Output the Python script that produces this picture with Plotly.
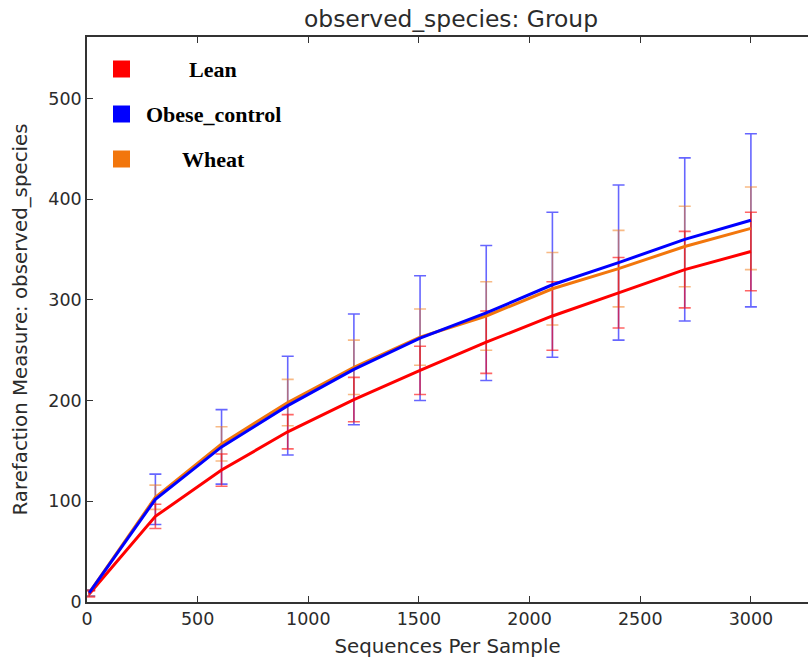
import plotly.graph_objects as go

# ---- data ----
seqs = [10, 309, 608, 907, 1206, 1505, 1804, 2103, 2402, 2701, 3000]

groups = ["Lean", "Obese_control", "Wheat"]

lean = [8, 85, 131, 169, 201, 230, 258, 284, 307, 330, 348]
lean_err = [3, 12, 16, 17, 22, 24, 31, 34, 35, 38, 39]

obese = [9, 102, 154, 195, 231, 262, 287, 315, 337, 360, 379]
obese_err = [3, 25, 37, 49, 55, 62, 67, 72, 77, 81, 86]

wheat = [9, 104, 157, 198, 233, 263, 284, 311, 331, 353, 371]
wheat_err = [3, 12, 17, 23, 27, 28, 34, 36, 38, 40, 41]

x_ticks = [0, 500, 1000, 1500, 2000, 2500, 3000]
y_ticks = [0, 100, 200, 300, 400, 500]

colors = {"Lean": "#ff0000", "Obese_control": "#0000ff", "Wheat": "#f2760c"}
err_colors = {"Lean": "rgba(255,0,0,0.6)",
              "Obese_control": "rgba(0,0,255,0.6)",
              "Wheat": "rgba(242,118,12,0.5)"}
series = {"Lean": (lean, lean_err),
          "Obese_control": (obese, obese_err),
          "Wheat": (wheat, wheat_err)}

W, H = 808, 659
L, T, R, B = 87, 37, 0, 57

fig = go.Figure()

# error bars first (under all lines)
for g in ["Obese_control", "Wheat", "Lean"]:
    vals, errs = series[g]
    fig.add_trace(go.Scatter(
        x=seqs, y=vals, mode="markers",
        marker=dict(size=1, opacity=0),
        error_y=dict(type="data", array=errs, visible=True,
                     color=err_colors[g], thickness=1.6, width=6),
        showlegend=False, hoverinfo="skip"))

# mean lines
for g in ["Lean", "Wheat", "Obese_control"]:
    vals, _ = series[g]
    fig.add_trace(go.Scatter(
        x=seqs, y=vals, mode="lines", name=g,
        line=dict(color=colors[g], width=3),
        showlegend=False))

# legend (squares + centered bold serif text)
leg_y = [69, 114, 159]
for g, yy in zip(groups, leg_y):
    fig.add_shape(type="rect", xref="paper", yref="paper",
                  x0=(113 - L) / (W - L - R), x1=(130 - L) / (W - L - R),
                  y0=1 - (yy + 8.5 - T) / (H - T - B),
                  y1=1 - (yy - 8.5 - T) / (H - T - B),
                  fillcolor=colors[g], line=dict(width=0), layer="above")
    fig.add_annotation(text=f"<b>{g}</b>", xref="paper", yref="paper",
                       x=(213 - L) / (W - L - R),
                       y=1 - (yy - T) / (H - T - B),
                       xanchor="center", yanchor="middle", showarrow=False,
                       font=dict(family="Liberation Serif", size=22, color="#000000"))

axis_font = dict(family="DejaVu Sans", size=17.5, color="#2b2b2b")
label_font = dict(family="DejaVu Sans", size=19.8, color="#2b2b2b")

fig.update_layout(
    width=W, height=H,
    margin=dict(l=L, r=R, t=T, b=B),
    paper_bgcolor="white", plot_bgcolor="white",
    title=dict(text="observed_species: Group",
               x=(451 - L) / (W - L - R), xref="paper", xanchor="center",
               y=1 - 19 / H, yref="container", yanchor="middle",
               font=dict(family="DejaVu Sans", size=23.4, color="#2b2b2b")),
    xaxis=dict(range=[0, 3258], tickvals=x_ticks, ticks="inside", ticklen=6,
               tickwidth=1.3, tickcolor="#333333",
               showline=True, linecolor="#333333", linewidth=1.5,
               mirror="ticks", showgrid=False, zeroline=False,
               tickfont=axis_font,
               title=dict(text="Sequences Per Sample", font=label_font,
                          standoff=11)),
    yaxis=dict(range=[0, 561], tickvals=y_ticks, ticks="inside", ticklen=6,
               tickwidth=1.3, tickcolor="#333333",
               showline=True, linecolor="#333333", linewidth=1.5,
               mirror=False, showgrid=False, zeroline=False,
               tickfont=axis_font,
               title=dict(text="Rarefaction Measure: observed_species",
                          font=label_font, standoff=15)),
)

fig.write_html("out.html")
